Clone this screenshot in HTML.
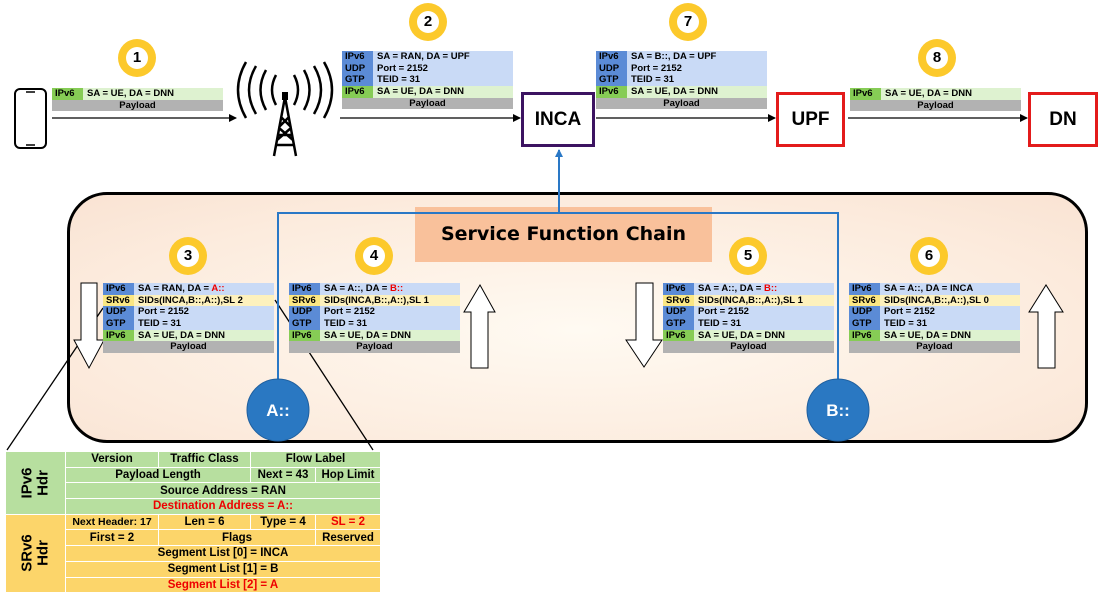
<!DOCTYPE html>
<html><head><meta charset="utf-8"><style>
*{margin:0;padding:0;box-sizing:border-box}
body{width:1102px;height:597px;background:#fff;position:relative;overflow:hidden;font-family:"Liberation Sans",sans-serif}
.abs{position:absolute}
.pk{position:absolute;width:171px;font-size:9.5px;font-weight:bold;color:#000}
.r{display:flex;height:11.7px;line-height:11.7px}
.r .l{width:31px;padding-left:3px}
.r .t{flex:1;padding-left:4px}
.b .l{background:#5b8bd6}.b .t{background:#c9daf6}
.y .l{background:#fbe783}.y .t{background:#fdf1bd}
.g .l{background:#86cc55}.g .t{background:#def2d0}
.p{background:#b2b2b2;text-align:center;height:11.7px;line-height:11.7px}
.red{color:#e00}
.badge{position:absolute;width:38px;height:38px;border-radius:50%;background:#fcc92b}
.badge span{position:absolute;left:8px;top:8px;width:22px;height:22px;border-radius:50%;background:#fff;text-align:center;line-height:22px;font-weight:bold;font-size:15px}
.node{position:absolute;background:#fff;display:flex;align-items:center;justify-content:center;font-weight:bold;font-size:19px}
table{border-collapse:collapse;font-size:11.5px;font-weight:bold}
td{border:1px solid #fff;text-align:center;height:15.7px;padding:0}
</style></head><body>

<!-- big rounded container -->
<div class="abs" style="left:67px;top:192px;width:1021px;height:251px;border:3px solid #000;border-radius:40px;background:radial-gradient(ellipse at 50% 55%,#fffaf2 0%,#fcebdd 70%,#f9e3d3 100%)"></div>
<div class="abs" style="left:415px;top:207px;width:297px;height:55px;background:#f9c19b;font-family:'DejaVu Sans',sans-serif;font-weight:bold;font-size:19px;text-align:center;line-height:55px">Service Function Chain</div>

<svg class="abs" style="left:0;top:0" width="1102" height="597">
<defs><marker id="ah" markerWidth="8" markerHeight="8" refX="7" refY="4" orient="auto" markerUnits="userSpaceOnUse"><path d="M0,0L8,4L0,8z" fill="#000"/></marker>
<marker id="bh" markerWidth="8" markerHeight="8" refX="7" refY="4" orient="auto" markerUnits="userSpaceOnUse"><path d="M0,0L8,4L0,8z" fill="#2a78c6"/></marker></defs>
<g stroke="#000" stroke-width="1.3" fill="none">
<line x1="52" y1="118" x2="236" y2="118" marker-end="url(#ah)"/>
<line x1="340" y1="118" x2="520" y2="118" marker-end="url(#ah)"/>
<line x1="596" y1="118" x2="775" y2="118" marker-end="url(#ah)"/>
<line x1="848" y1="118" x2="1027" y2="118" marker-end="url(#ah)"/>
<line x1="7" y1="450" x2="103" y2="308"/>
<line x1="373" y1="450" x2="275" y2="300"/>
</g>
<g stroke="#2a78c6" stroke-width="2" fill="none">
<polyline points="559,213 559,150" marker-end="url(#bh)"/>
<polyline points="278,392 278,213 838,213 838,392" />
<line x1="278" y1="380" x2="278" y2="393" marker-end="url(#bh)"/>
<line x1="838" y1="380" x2="838" y2="393" marker-end="url(#bh)"/>
</g>
<circle cx="278" cy="410" r="31" fill="#2a78c2" stroke="#1f5f9e"/>
<circle cx="838" cy="410" r="31" fill="#2a78c2" stroke="#1f5f9e"/>
<text x="278" y="416" fill="#fff" font-family="Liberation Sans" font-weight="bold" font-size="17" text-anchor="middle">A::</text>
<text x="838" y="416" fill="#fff" font-family="Liberation Sans" font-weight="bold" font-size="17" text-anchor="middle">B::</text>
<!-- hollow arrows -->
<g fill="#fff" stroke="#000" stroke-width="1">
<path d="M81,283 H97 V340 H104 L89,368 L74,340 H81Z"/>
<path d="M636,283 H653 V340 H662 L644,367 L626,340 H636Z"/>
<path d="M471,368 H488 V312 H495 L480,285 L464,312 H471Z"/>
<path d="M1038,368 H1055 V312 H1063 L1046,285 L1029,312 H1038Z"/>
</g>
<!-- phone -->
<rect x="15" y="89" width="31" height="59" rx="5" fill="none" stroke="#000" stroke-width="2"/>
<line x1="26" y1="92" x2="35" y2="92" stroke="#000" stroke-width="1.5"/>
<line x1="26" y1="145" x2="35" y2="145" stroke="#000" stroke-width="1.5"/>
<!-- tower -->
<g stroke="#000" stroke-width="2.5" fill="none">
<path d="M285,97 L274,156 M285,97 L296,156 M278,135 H292 M276,145 H294 M281,117 L291,127 M289,117 L279,127 M279,128 L293,140 M291,128 L277,140"/>
<path d="M276,75 Q268,90 276,105 M294,75 Q302,90 294,105"/>
<path d="M266,70 Q255,90 266,110 M304,70 Q315,90 304,110"/>
<path d="M256,66 Q242,90 256,114 M314,66 Q328,90 314,114"/>
<path d="M246,62 Q230,90 246,118 M324,62 Q340,90 324,118"/>
</g>
<rect x="282" y="92" width="6" height="8" fill="#000"/>
</svg>

<!-- nodes -->
<div class="node" style="left:521px;top:92px;width:74px;height:55px;border:3px solid #3c1361">INCA</div>
<div class="node" style="left:776px;top:92px;width:69px;height:55px;border:3px solid #e31b1b">UPF</div>
<div class="node" style="left:1028px;top:92px;width:70px;height:55px;border:3px solid #e31b1b">DN</div>

<!-- badges -->
<div class="badge" style="left:118px;top:39px"><span>1</span></div>
<div class="badge" style="left:409px;top:3px"><span>2</span></div>
<div class="badge" style="left:669px;top:3px"><span>7</span></div>
<div class="badge" style="left:918px;top:39px"><span>8</span></div>
<div class="badge" style="left:169px;top:237px"><span>3</span></div>
<div class="badge" style="left:355px;top:237px"><span>4</span></div>
<div class="badge" style="left:729px;top:237px"><span>5</span></div>
<div class="badge" style="left:910px;top:237px"><span>6</span></div>

<!-- packets -->
<div class="pk" style="left:52px;top:88px"><div class="r g"><div class="l">IPv6</div><div class="t">SA = UE, DA = DNN</div></div><div class="p">Payload</div></div>
<div class="pk" style="left:342px;top:51px"><div class="r b"><div class="l">IPv6</div><div class="t">SA = RAN, DA = UPF</div></div><div class="r b"><div class="l">UDP</div><div class="t">Port = 2152</div></div><div class="r b"><div class="l">GTP</div><div class="t">TEID = 31</div></div><div class="r g"><div class="l">IPv6</div><div class="t">SA = UE, DA = DNN</div></div><div class="p">Payload</div></div>
<div class="pk" style="left:596px;top:51px"><div class="r b"><div class="l">IPv6</div><div class="t">SA = B::, DA = UPF</div></div><div class="r b"><div class="l">UDP</div><div class="t">Port = 2152</div></div><div class="r b"><div class="l">GTP</div><div class="t">TEID = 31</div></div><div class="r g"><div class="l">IPv6</div><div class="t">SA = UE, DA = DNN</div></div><div class="p">Payload</div></div>
<div class="pk" style="left:850px;top:88px"><div class="r g"><div class="l">IPv6</div><div class="t">SA = UE, DA = DNN</div></div><div class="p">Payload</div></div>

<div class="pk" style="left:103px;top:283px"><div class="r b"><div class="l">IPv6</div><div class="t">SA = RAN, DA = <span class="red">A::</span></div></div><div class="r y"><div class="l">SRv6</div><div class="t">SIDs(INCA,B::,A::),SL 2</div></div><div class="r b"><div class="l">UDP</div><div class="t">Port = 2152</div></div><div class="r b"><div class="l">GTP</div><div class="t">TEID = 31</div></div><div class="r g"><div class="l">IPv6</div><div class="t">SA = UE, DA = DNN</div></div><div class="p">Payload</div></div>
<div class="pk" style="left:289px;top:283px"><div class="r b"><div class="l">IPv6</div><div class="t">SA = A::, DA = <span class="red">B::</span></div></div><div class="r y"><div class="l">SRv6</div><div class="t">SIDs(INCA,B::,A::),SL 1</div></div><div class="r b"><div class="l">UDP</div><div class="t">Port = 2152</div></div><div class="r b"><div class="l">GTP</div><div class="t">TEID = 31</div></div><div class="r g"><div class="l">IPv6</div><div class="t">SA = UE, DA = DNN</div></div><div class="p">Payload</div></div>
<div class="pk" style="left:663px;top:283px"><div class="r b"><div class="l">IPv6</div><div class="t">SA = A::, DA = <span class="red">B::</span></div></div><div class="r y"><div class="l">SRv6</div><div class="t">SIDs(INCA,B::,A::),SL 1</div></div><div class="r b"><div class="l">UDP</div><div class="t">Port = 2152</div></div><div class="r b"><div class="l">GTP</div><div class="t">TEID = 31</div></div><div class="r g"><div class="l">IPv6</div><div class="t">SA = UE, DA = DNN</div></div><div class="p">Payload</div></div>
<div class="pk" style="left:849px;top:283px"><div class="r b"><div class="l">IPv6</div><div class="t">SA = A::, DA = INCA</div></div><div class="r y"><div class="l">SRv6</div><div class="t">SIDs(INCA,B::,A::),SL 0</div></div><div class="r b"><div class="l">UDP</div><div class="t">Port = 2152</div></div><div class="r b"><div class="l">GTP</div><div class="t">TEID = 31</div></div><div class="r g"><div class="l">IPv6</div><div class="t">SA = UE, DA = DNN</div></div><div class="p">Payload</div></div>

<!-- header table -->
<table class="abs" style="left:5px;top:451px;width:376px">
<tr style="background:#b7df9f"><td rowspan="4" style="width:60px;font-size:15px;line-height:16px"><div style="transform:rotate(-90deg)">IPv6<br>Hdr</div></td><td style="width:93px">Version</td><td style="width:92px">Traffic Class</td><td colspan="2">Flow Label</td></tr>
<tr style="background:#b7df9f"><td colspan="2">Payload Length</td><td style="width:65px">Next = 43</td><td style="width:65px">Hop Limit</td></tr>
<tr style="background:#b7df9f"><td colspan="4">Source Address = RAN</td></tr>
<tr style="background:#b7df9f"><td colspan="4" class="red">Destination Address = A::</td></tr>
<tr style="background:#fcd56a"><td rowspan="5" style="font-size:15px;line-height:16px"><div style="transform:rotate(-90deg)">SRv6<br>Hdr</div></td><td style="font-size:10.5px">Next Header: 17</td><td>Len = 6</td><td>Type = 4</td><td class="red">SL = 2</td></tr>
<tr style="background:#fcd56a"><td>First = 2</td><td colspan="2">Flags</td><td>Reserved</td></tr>
<tr style="background:#fcd56a"><td colspan="4">Segment List [0] = INCA</td></tr>
<tr style="background:#fcd56a"><td colspan="4">Segment List [1] = B</td></tr>
<tr style="background:#fcd56a"><td colspan="4" class="red">Segment List [2] = A</td></tr>
</table>
</body></html>
